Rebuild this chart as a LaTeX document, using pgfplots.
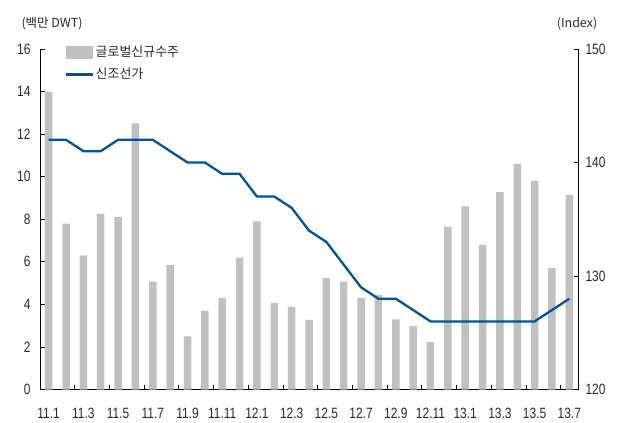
\documentclass[border=0pt]{standalone}
\usepackage{pgfplots}
\pgfplotsset{compat=1.18}
\usepackage{fontspec}
\setmainfont{Liberation Sans}[FakeStretch=0.8]
\newfontfamily\kr{Noto Sans CJK KR}
\definecolor{bargray}{RGB}{192,192,192}
\definecolor{lineblue}{RGB}{0,82,155}
\definecolor{txt}{RGB}{40,40,40}
\pgfplotstableread{
x v
0 14.0
1 7.8
2 6.3
3 8.25
4 8.1
5 12.5
6 5.07
7 5.85
8 2.5
9 3.7
10 4.3
11 6.2
12 7.9
13 4.07
14 3.88
15 3.27
16 5.25
17 5.07
18 4.3
19 4.45
20 3.3
21 2.98
22 2.23
23 7.65
24 8.6
25 6.8
26 9.28
27 10.6
28 9.8
29 5.7
30 9.15
}\orders
\pgfplotstableread{
x p
0 142
1 142
2 141
3 141
4 142
5 142
6 142
7 141
8 140
9 140
10 139
11 139
12 137
13 137
14 136
15 134
16 133
17 131
18 129
19 128
20 128
21 127
22 126
23 126
24 126
25 126
26 126
27 126
28 126
29 127
30 128
}\price
\begin{document}
\begin{tikzpicture}
\path[use as bounding box] (-40bp,-33.5bp) rectangle (580bp,389.5bp);
\begin{axis}[
  at={(0,0)}, anchor=south west,
  scale only axis, width=538bp, height=340.5bp,
  xmin=-0.5, xmax=30.5, ymin=0, ymax=16,
  axis x line*=bottom, axis y line*=left,
  tick align=inside,
  major tick length=4.5bp,
  /pgf/number format/assume math mode=true,
  axis line style={line width=0.8pt, black},
  ytick={0,2,...,16},
  xtick={1.5,3.5,...,29.5},
  xticklabels={},
  extra x ticks={0,2,...,30},
  extra x tick labels={11.1,11.3,11.5,11.7,11.9,11.11,12.1,12.3,12.5,12.7,12.9,12.11,13.1,13.3,13.5,13.7},
  extra x tick style={major tick length=0pt, grid=none},
  xticklabel style={font=\fontsize{15}{17}\selectfont, text=txt, yshift=-15bp},
  yticklabel style={font=\fontsize{15}{17}\selectfont, text=txt, xshift=-6bp},
  tick style={black, line width=0.8pt},
  clip=false,
]
\addplot[ybar, bar width=7.5bp, fill=bargray, draw=none] table[x=x,y=v]{\orders};
\node[font=\kr\fontsize{12.5}{14}\selectfont, text=txt] at (axis description cs:0,1) [xshift=12bp, yshift=25bp] {(백만 DWT)};
\node[font=\kr\fontsize{12.5}{14}\selectfont, text=txt] at (axis description cs:1,1) [xshift=-1bp, yshift=25bp] {(Index)};
\end{axis}
\begin{axis}[
  at={(0,0)}, anchor=south west,
  scale only axis, width=538bp, height=340.5bp,
  xmin=-0.5, xmax=30.5, ymin=120, ymax=150,
  axis x line=none, axis y line*=right,
  tick align=inside,
  major tick length=4.5bp,
  /pgf/number format/assume math mode=true,
  axis line style={line width=0.8pt, black},
  tick style={black, line width=0.8pt},
  ytick={120,130,140,150},
  yticklabel style={font=\fontsize{15}{17}\selectfont, text=txt, xshift=4bp},
  legend style={at={(axis description cs:0.045,1.015)}, anchor=north west, draw=none, fill=none,
    font=\kr\fontsize{13}{15}\selectfont, text=txt, row sep=6bp, inner sep=0pt},
  legend cell align=left,
  clip=false,
]
\addlegendimage{area legend, fill=bargray, draw=none, legend image code/.code={\fill[bargray] (0bp,-6.5bp) rectangle (27bp,6.5bp);}}
\addlegendentry{글로벌신규수주}
\addplot[lineblue, line width=2.3pt, legend image code/.code={\draw[lineblue, line width=2.3pt] (0bp,0bp) -- (27bp,0bp);}] table[x=x,y=p]{\price};
\addlegendentry{신조선가}
\end{axis}
\end{tikzpicture}
\end{document}
